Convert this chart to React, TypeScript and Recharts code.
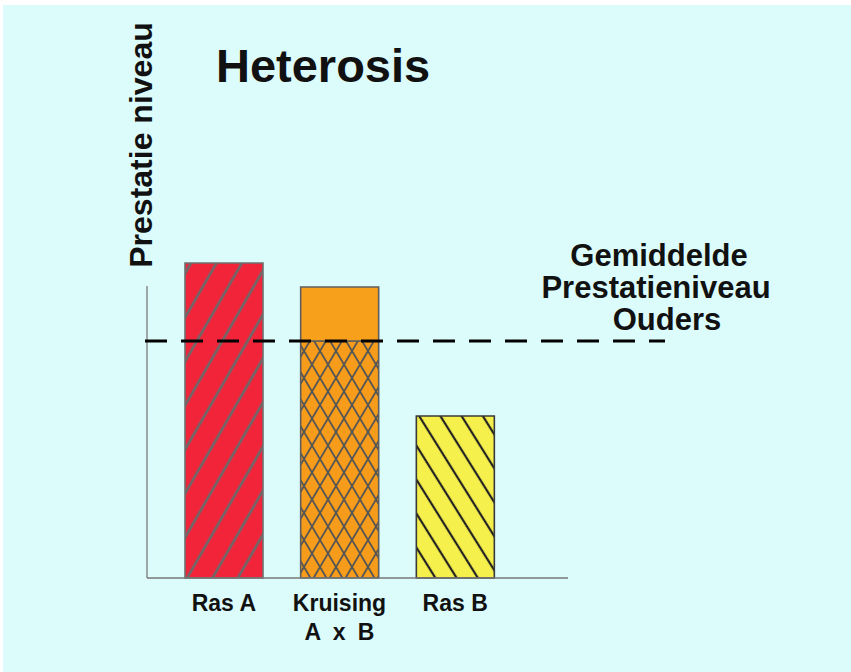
import { BarChart, Bar, XAxis, YAxis, Cell, ReferenceLine } from 'recharts';

// values (arbitrary performance scale, 0..100)
const categories = ['Ras A', 'Kruising', 'Ras B'];
const tickLabels = [['Ras A'], ['Kruising', 'A x B'], ['Ras B']];
const baseLevel = [78.75, 59.25, 40.5];
const heterosisGain = [0, 13.5, 0];
const parentMean = 59.25;
const axisTop = 73;

const annotationLines = ['Gemiddelde', 'Prestatieniveau', 'Ouders'];

const FONT = '"Liberation Sans", Arial, sans-serif';
const W = 851;
const H = 672;
const PLOT_BOTTOM = 578;

const fills = ['url(#hatchRed)', 'url(#crossOrange)', 'url(#hatchYellow)'];
const strokes = ['#6e6e6e', '#5e5e5e', '#3a3a3a'];

const chartData = categories.map((name, i) => ({
  name,
  base: baseLevel[i],
  gain: heterosisGain[i],
}));

const CategoryTick = ({ x, y, payload }: any) => {
  const idx = categories.indexOf(payload.value);
  const lines = idx >= 0 ? tickLabels[idx] : [payload.value];
  return (
    <text x={x} y={y} textAnchor="middle" fontFamily={FONT} fontWeight="bold" fontSize={23} fill="#111">
      {lines.map((l, i) => (
        <tspan key={i} x={x} dy={i === 0 ? 33 : 29} wordSpacing={i === 0 ? 0 : 6}>
          {l}
        </tspan>
      ))}
    </text>
  );
};

export default function App() {
  return (
    <div style={{ position: 'absolute', left: 0, top: 0, width: W, height: H, background: '#fff' }}>
      <div style={{ position: 'absolute', left: 3, top: 5, right: 0, bottom: 0, background: '#dcfcfb' }} />
      <BarChart
        width={W}
        height={H}
        data={chartData}
        margin={{ top: 178, right: 283, bottom: 24, left: 147 }}
        style={{ position: 'absolute', left: 0, top: 0 }}
      >
        <defs>
          <pattern id="hatchRed" patternUnits="userSpaceOnUse" width={22} height={22} patternTransform="rotate(30)">
            <rect width={22} height={22} fill="#f2243a" />
            <line x1={11} y1={0} x2={11} y2={22} stroke="#6a6a6a" strokeWidth={2.6} />
          </pattern>
          <pattern id="hatchYellow" patternUnits="userSpaceOnUse" width={18} height={18} patternTransform="rotate(-32)">
            <rect width={18} height={18} fill="#f5f04c" />
            <line x1={9} y1={0} x2={9} y2={18} stroke="#222" strokeWidth={2.2} />
          </pattern>
          <pattern id="crossOrange" patternUnits="userSpaceOnUse" width={16} height={27}>
            <rect width={16} height={27} fill="#f69c1a" />
            <path d="M0 0 L16 27 M16 0 L0 27" stroke="#555" strokeWidth={1.8} fill="none" />
          </pattern>
        </defs>
        <XAxis
          dataKey="name"
          axisLine={{ stroke: '#777', strokeWidth: 1.5 }}
          tickLine={false}
          tickSize={0}
          tickMargin={0}
          height={70}
          padding={{ left: 19, right: 55 }}
          tick={<CategoryTick />}
          interval={0}
        />
        <YAxis hide domain={[0, 100]} />
        <Bar dataKey="base" stackId="a" barSize={78} isAnimationActive={false}>
          {chartData.map((_, i) => (
            <Cell key={i} fill={fills[i]} stroke={strokes[i]} strokeWidth={1.6} />
          ))}
        </Bar>
        <Bar dataKey="gain" stackId="a" barSize={78} fill="#f7a01c" stroke="#5e5e5e" strokeWidth={1.6} isAnimationActive={false} />
        <ReferenceLine
          y={axisTop}
          shape={(p: any) => (
            <line x1={p.x1} y1={p.y1} x2={p.x1} y2={PLOT_BOTTOM} stroke="#8a8a8a" strokeWidth={1.5} />
          )}
        />
        <ReferenceLine
          y={parentMean}
          shape={(p: any) => (
            <line
              x1={p.x1 - 2}
              y1={p.y1}
              x2={p.x2 + 97}
              y2={p.y2}
              stroke="#000"
              strokeWidth={3}
              strokeDasharray="22 14"
            />
          )}
        />
      </BarChart>
      <svg width={W} height={H} style={{ position: 'absolute', left: 0, top: 0, pointerEvents: 'none' }}>
        <text x={216} y={82} fontFamily={FONT} fontWeight="bold" fontSize={47} fill="#111">
          Heterosis
        </text>
        <text
          transform="translate(152,145) rotate(-90)"
          textAnchor="middle"
          fontFamily={FONT}
          fontWeight="bold"
          fontSize={32}
          fill="#111"
        >
          Prestatie niveau
        </text>
        {annotationLines.map((t, i) => (
          <text
            key={t}
            x={[659, 656, 667][i]}
            y={266 + i * 32}
            textAnchor="middle"
            fontFamily={FONT}
            fontWeight="bold"
            fontSize={31}
            fill="#111"
          >
            {t}
          </text>
        ))}
      </svg>
    </div>
  );
}
